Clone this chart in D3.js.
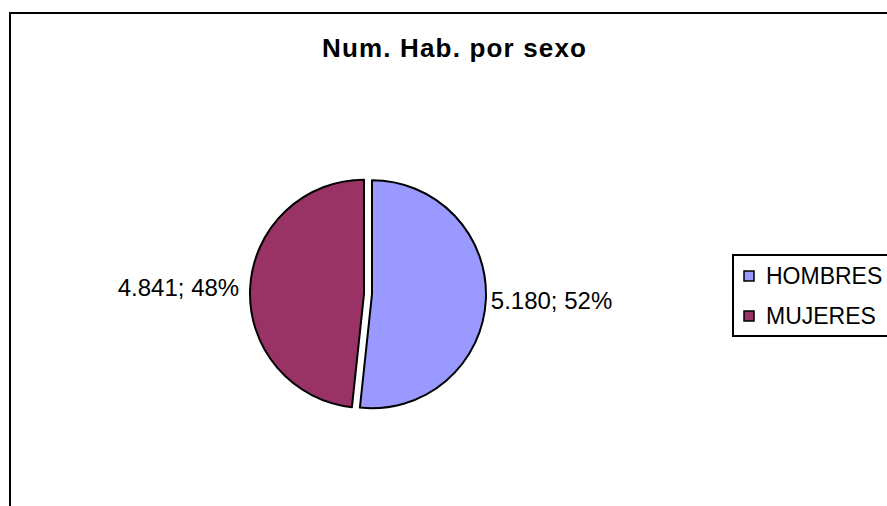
<!DOCTYPE html>
<html>
<head>
<meta charset="utf-8">
<script src="https://cdn.jsdelivr.net/npm/d3@7"></script>
<style>
    body { margin: 0; background: #fff; }
    text { font-family: Arial, "Liberation Sans", sans-serif; fill: #000; }
</style>
</head>
<body>
<div id="chart"></div>
<script>
const TITLE = 'Num. Hab. por sexo';
const categories = ['HOMBRES', 'MUJERES'];
const values = [5180, 4841];
const colors = ['#9999FF', '#993366'];

const svgWidth = 887;
const svgHeight = 506;

const center = { x: 368, y: 294 };
const radius = 114;
const explode = 4;

const locale = d3.formatLocale({ decimal: ',', thousands: '.', grouping: [3], currency: ['', '€'] });
const fmt = locale.format(',d');

const svg = d3.select('#chart').append('svg')
    .attr('width', svgWidth)
    .attr('height', svgHeight);

// chart area border (runs off the right and bottom edges)
svg.append('rect')
    .attr('x', 10)
    .attr('y', 13)
    .attr('width', 1000)
    .attr('height', 600)
    .attr('fill', 'none')
    .attr('stroke', '#000')
    .attr('stroke-width', 2);

// Title
svg.append('text')
    .attr('x', 322)
    .attr('y', 57)
    .attr('textLength', 264)
    .attr('lengthAdjust', 'spacing')
    .style('font-size', '26px')
    .style('font-weight', 'bold')
    .text(TITLE);

const data = categories.map((c, i) => ({ name: c, value: values[i], color: colors[i] }));
const total = d3.sum(values);

const pie = d3.pie()
    .sort(null)
    .value(d => d.value);

const arc = d3.arc()
    .innerRadius(0)
    .outerRadius(radius);

const chart = svg.append('g')
    .attr('transform', `translate(${center.x},${center.y})`);

const mid = d => (d.startAngle + d.endAngle) / 2;

chart.selectAll('path')
    .data(pie(data))
    .enter()
    .append('path')
    .attr('d', arc)
    .attr('transform', d => `translate(${explode * Math.sin(mid(d))},${-explode * Math.cos(mid(d))})`)
    .attr('fill', d => d.data.color)
    .attr('stroke', '#000')
    .attr('stroke-width', 2)
    .attr('stroke-linejoin', 'round');

// Labels outside each slice
const labelR = radius + explode + 5;
chart.selectAll('text.lbl')
    .data(pie(data))
    .enter()
    .append('text')
    .attr('class', 'lbl')
    .attr('x', d => labelR * Math.sin(mid(d)))
    .attr('y', d => -labelR * Math.cos(mid(d)))
    .attr('dx', d => mid(d) < Math.PI ? 0 : -6)
    .attr('dy', '0.35em')
    .style('font-size', '24px')
    .style('text-anchor', d => mid(d) < Math.PI ? 'start' : 'end')
    .text(d => `${fmt(d.data.value)}; ${Math.round(100 * d.data.value / total)}%`);

// Legend
const legend = svg.append('g')
    .attr('transform', 'translate(733,255)');

legend.append('rect')
    .attr('width', 200)
    .attr('height', 81)
    .attr('fill', '#fff')
    .attr('stroke', '#000')
    .attr('stroke-width', 2);

const item = legend.selectAll('g.item')
    .data(data)
    .enter()
    .append('g')
    .attr('class', 'item')
    .attr('transform', (d, i) => `translate(0,${21 + i * 40})`);

item.append('rect')
    .attr('x', 11)
    .attr('y', -5)
    .attr('width', 10)
    .attr('height', 10)
    .attr('fill', d => d.color)
    .attr('stroke', '#000')
    .attr('stroke-width', 1.5);

item.append('text')
    .attr('x', 33)
    .attr('dy', '0.35em')
    .style('font-size', '23px')
    .text(d => d.name);
</script>
</body>
</html>
